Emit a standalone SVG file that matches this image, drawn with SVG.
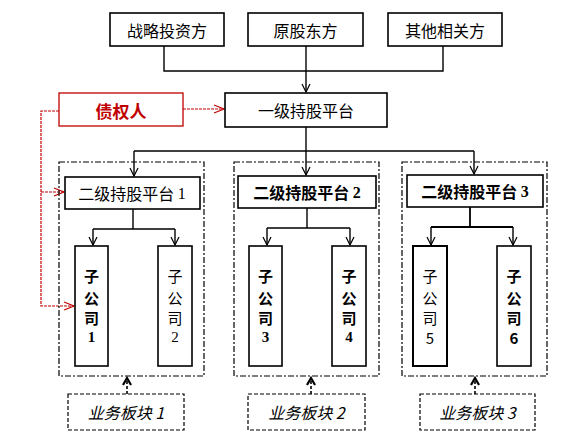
<svg xmlns="http://www.w3.org/2000/svg" width="573" height="443" viewBox="0 0 573 443">
<style>
.box{fill:#fff;stroke:#000;stroke-width:1.6}
.grp{fill:none;stroke:#000;stroke-width:1.2;stroke-dasharray:6,2,2,2}
.biz{fill:#fff;stroke:#000;stroke-width:1.2;stroke-dasharray:4,2}
.t{font-family:"Noto Sans CJK SC","Noto Sans",sans-serif;font-size:16px;fill:#000;text-anchor:middle;dominant-baseline:central}
.b{font-weight:bold}
.n{font-family:"Liberation Serif","Noto Sans CJK SC",serif}
.it{font-style:italic}
.c{fill:none;stroke:#000;stroke-width:1.4}
.r{fill:none;stroke:#c00000;stroke-width:1.2;stroke-dasharray:3,1}
.d{fill:none;stroke:#000;stroke-width:1.6;stroke-dasharray:3,2}
</style>
<defs>
<marker id="a" markerWidth="10" markerHeight="10" refX="9" refY="5" orient="auto" markerUnits="userSpaceOnUse">
<path d="M1,1 L9,5 L1,9" fill="none" stroke="#000" stroke-width="1.2"/>
</marker>
<marker id="ar" markerWidth="12" markerHeight="10" refX="11" refY="5" orient="auto" markerUnits="userSpaceOnUse">
<path d="M1,1 L11,5 L1,9" fill="none" stroke="#c00000" stroke-width="1.2"/>
</marker>
<marker id="ad" markerWidth="10" markerHeight="10" refX="8" refY="5" orient="auto" markerUnits="userSpaceOnUse">
<path d="M1,1 L8,5 L1,9" fill="none" stroke="#000" stroke-width="2.2"/>
</marker>
</defs>

<g id="connectors">
<path class="c" d="M164,46 V71 H443 V46"/>
<path class="c" d="M306,46 V92" marker-end="url(#a)"/>
<path class="c" d="M306,127 V151"/>
<path class="c" d="M134,151 H474"/>
<path class="c" d="M134,151 V176" marker-end="url(#a)"/>
<path class="c" d="M306,151 V175" marker-end="url(#a)"/>
<path class="c" d="M474,151 V174" marker-end="url(#a)"/>
<path class="c" d="M133,209 V229 M93,229 H175"/>
<path class="c" d="M93,229 V245" marker-end="url(#a)"/>
<path class="c" d="M175,229 V245" marker-end="url(#a)"/>
<path class="c" d="M307,208 V228 M267,228 H350"/>
<path class="c" d="M267,228 V245" marker-end="url(#a)"/>
<path class="c" d="M350,228 V245" marker-end="url(#a)"/>
<path class="c" d="M470,207 V227 M431,227 H513" style="stroke-width:1.8"/>
<path class="c" d="M431,227 V245" marker-end="url(#a)"/>
<path class="c" d="M513,227 V245" marker-end="url(#a)"/>
<path class="r" d="M183,109 H224" marker-end="url(#ar)"/>
<path class="r" d="M59,111 H41 V306 H74" marker-end="url(#ar)"/>
<path class="r" d="M41,192 H64" marker-end="url(#ar)"/>
<path class="d" d="M127,394 V378" marker-end="url(#ad)"/>
<path class="d" d="M311,394 V378" marker-end="url(#ad)"/>
<path class="d" d="M475,394 V378" marker-end="url(#ad)"/>
</g>

<g id="group1"><rect class="grp" x="59" y="162" width="145" height="214"/></g>
<g id="group2"><rect class="grp" x="234" y="162" width="145" height="214"/></g>
<g id="group3"><rect class="grp" x="402" y="162" width="145" height="214"/></g>

<g id="n-zhanlue"><rect class="box" x="110" y="13" width="114" height="33"/><text class="t" x="167" y="30">战略投资方</text></g>
<g id="n-yuangudong"><rect class="box" x="248" y="13" width="115" height="33"/><text class="t" x="305.5" y="30">原股东方</text></g>
<g id="n-qita"><rect class="box" x="388" y="13" width="114" height="33"/><text class="t" x="445" y="30">其他相关方</text></g>

<g id="n-zhaiquan"><rect x="59" y="93" width="124" height="33" fill="#fff" stroke="#c00000" stroke-width="1.3"/><text class="t b" x="121" y="110" style="fill:#c00000;font-size:17px">债权人</text></g>
<g id="n-yiji"><rect class="box" x="225" y="93" width="162" height="34"/><text class="t" x="306" y="110">一级持股平台</text></g>

<g id="n-erji1"><rect class="box" x="65" y="177" width="135" height="32"/><text class="t" x="132" y="193">二级持股平台 <tspan class="n">1</tspan></text></g>
<g id="n-erji2"><rect class="box" x="238" y="176" width="138" height="32"/><text class="t b" x="307" y="192">二级持股平台 <tspan class="n">2</tspan></text></g>
<g id="n-erji3"><rect class="box" x="407" y="175" width="136" height="32"/><text class="t b" x="475" y="191">二级持股平台 <tspan class="n">3</tspan></text></g>

<g id="n-sub1"><rect class="box" x="75" y="246" width="33" height="120"/><text class="t b" x="91.5" style="font-size:15px"><tspan x="91.5" y="275">子</tspan><tspan x="91.5" y="297">公</tspan><tspan x="91.5" y="317">司</tspan><tspan class="n" x="91.5" y="337">1</tspan></text></g>
<g id="n-sub2"><rect class="box" x="158" y="246" width="34" height="120"/><text class="t" x="175" style="font-size:15px"><tspan x="175" y="275">子</tspan><tspan x="175" y="297">公</tspan><tspan x="175" y="317">司</tspan><tspan class="n" x="175" y="337">2</tspan></text></g>
<g id="n-sub3"><rect class="box" x="249" y="246" width="33" height="120"/><text class="t b" x="265.5" style="font-size:15px"><tspan x="265.5" y="275">子</tspan><tspan x="265.5" y="297">公</tspan><tspan x="265.5" y="317">司</tspan><tspan class="n" x="265.5" y="337">3</tspan></text></g>
<g id="n-sub4"><rect class="box" x="332" y="246" width="34" height="120"/><text class="t b" x="349" style="font-size:15px"><tspan x="349" y="275">子</tspan><tspan x="349" y="297">公</tspan><tspan x="349" y="317">司</tspan><tspan class="n" x="349" y="337">4</tspan></text></g>
<g id="n-sub5"><rect class="box" x="413" y="246" width="34" height="120" style="stroke-width:2"/><text class="t" x="430" style="font-size:15px"><tspan x="430" y="275">子</tspan><tspan x="430" y="297">公</tspan><tspan x="430" y="317">司</tspan><tspan x="430" y="337">5</tspan></text></g>
<g id="n-sub6"><rect class="box" x="497" y="246" width="34" height="120"/><text class="t b" x="514" style="font-size:15px"><tspan x="514" y="275">子</tspan><tspan x="514" y="297">公</tspan><tspan x="514" y="317">司</tspan><tspan x="514" y="337">6</tspan></text></g>

<g id="n-biz1"><rect class="biz" x="68" y="394" width="116" height="36"/><text class="t it" x="126" y="412">业务板块 1</text></g>
<g id="n-biz2"><rect class="biz" x="248" y="394" width="117" height="36"/><text class="t it" x="306.5" y="412">业务板块 2</text></g>
<g id="n-biz3"><rect class="biz" x="420" y="394" width="115" height="36"/><text class="t it" x="477.5" y="412">业务板块 3</text></g>
</svg>
